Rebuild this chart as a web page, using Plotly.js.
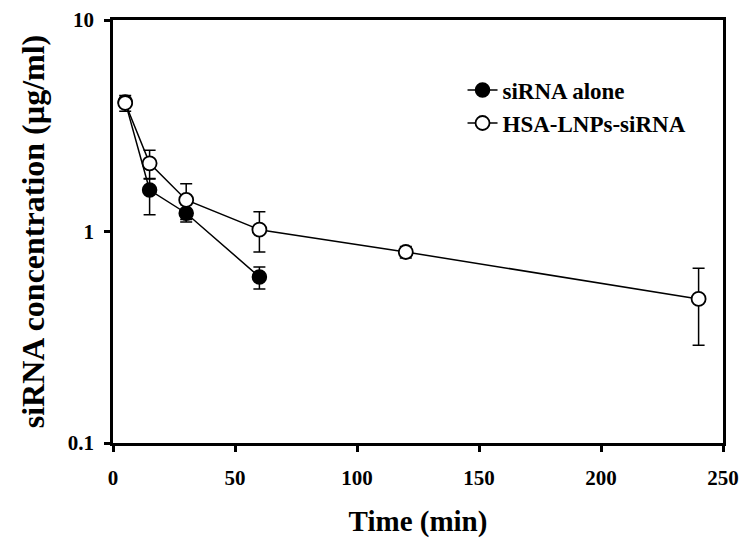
<!DOCTYPE html>
<html>
<head>
<meta charset="utf-8">
<script src="https://cdn.plot.ly/plotly-3.0.1.min.js"></script>
<style>
  body { margin: 0; background: #fff; }
  #plotArea { width: 750px; height: 547px; }
</style>
</head>
<body>
<div id="plotArea"></div>
<script>
// siRNA alone (filled circles)
var timeAlone = [5, 15, 30, 60];
var concAlone = [4.1, 1.57, 1.22, 0.61];
var errAloneUp = [0.2, 0.2, 0.12, 0.07];
var errAloneDown = [0.2, 0.37, 0.11, 0.075];

// HSA-LNPs-siRNA (open circles)
var timeHsa = [5, 15, 30, 60, 120, 240];
var concHsa = [4.05, 2.1, 1.41, 1.02, 0.8, 0.48];
var errHsaUp = [0.35, 0.32, 0.27, 0.22, 0.05, 0.19];
var errHsaDown = [0.35, 0.32, 0.27, 0.22, 0.05, 0.19];

var serif = "Liberation Serif, Times New Roman, serif";

var traceAlone = {
    x: timeAlone,
    y: concAlone,
    name: "siRNA alone",
    type: "scatter",
    mode: "lines+markers",
    line: {color: "black", width: 1.5},
    marker: {symbol: "circle", size: 14, color: "black", line: {color: "black", width: 1.5}},
    error_y: {type: "data", array: errAloneUp, arrayminus: errAloneDown, color: "black", thickness: 1.5, width: 6}
};

var traceHsa = {
    x: timeHsa,
    y: concHsa,
    name: "HSA-LNPs-siRNA",
    type: "scatter",
    mode: "lines+markers",
    line: {color: "black", width: 1.5},
    marker: {symbol: "circle", size: 14, color: "white", line: {color: "black", width: 1.8}},
    error_y: {type: "data", array: errHsaUp, arrayminus: errHsaDown, color: "black", thickness: 1.5, width: 6}
};

var layout = {
    width: 750,
    height: 547,
    margin: {l: 113, r: 27, t: 20, b: 104},
    paper_bgcolor: "white",
    plot_bgcolor: "white",
    showlegend: true,
    legend: {
        x: 0.573, y: 0.885, xanchor: "left", yanchor: "top",
        font: {family: serif, size: 23, color: "black", weight: "bold"},
        bgcolor: "rgba(0,0,0,0)",
        tracegroupgap: 0
    },
    xaxis: {
        range: [0, 250],
        tickvals: [0, 50, 100, 150, 200, 250],
        ticks: "outside", ticklen: 6, tickwidth: 2.5, tickcolor: "black",
        ticklabelstandoff: 8,
        showgrid: false, zeroline: false,
        showline: true, linecolor: "black", linewidth: 2.5, mirror: true,
        tickfont: {family: serif, size: 21, color: "black", weight: "bold"},
        title: {text: "Time (min)", font: {family: serif, size: 29, color: "black", weight: "bold"}, standoff: 22}
    },
    yaxis: {
        type: "log",
        range: [-1, 1],
        tickvals: [0.1, 1, 10],
        ticktext: ["0.1", "1", "10"],
        ticks: "outside", ticklen: 6, tickwidth: 2.5, tickcolor: "black",
        ticklabelstandoff: 6,
        showgrid: false, zeroline: false,
        showline: true, linecolor: "black", linewidth: 2.5, mirror: true,
        tickfont: {family: serif, size: 21, color: "black", weight: "bold"},
        title: {text: "siRNA concentration (µg/ml)", font: {family: serif, size: 32, color: "black", weight: "bold"}, standoff: 14}
    }
};

Plotly.newPlot("plotArea", [traceAlone, traceHsa], layout, {displayModeBar: false, responsive: false});
</script>
</body>
</html>
